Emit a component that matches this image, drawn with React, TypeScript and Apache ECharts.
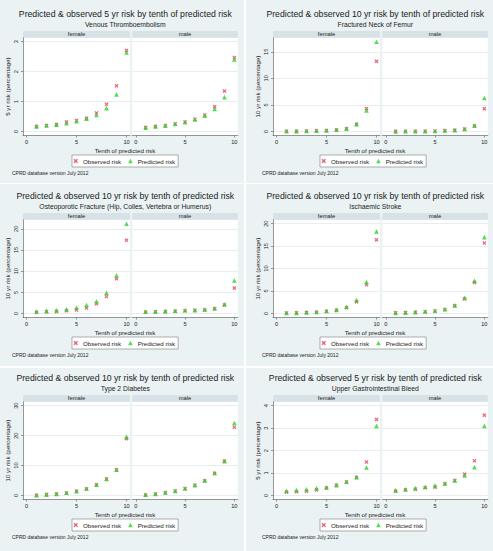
import React, { useEffect, useRef } from "react";
import * as echarts from "echarts";

// Tenths of predicted risk on the x axis, and the ticks shown for them
const tenths = [1, 2, 3, 4, 5, 6, 7, 8, 9, 10];
const xTickValues = [0, 5, 10];
const facetLabels = ["female", "male"];
const seriesNames = ["Observed risk", "Predicted risk"];

// Venous thromboembolism, 5 yr risk (%)
const vteFemaleObserved = [0.17, 0.2, 0.23, 0.32, 0.37, 0.44, 0.62, 0.91, 1.53, 2.71];
const vteFemalePredicted = [0.17, 0.2, 0.23, 0.28, 0.34, 0.43, 0.55, 0.78, 1.24, 2.64];
const vteMaleObserved = [0.13, 0.17, 0.2, 0.26, 0.32, 0.41, 0.55, 0.83, 1.35, 2.47];
const vteMalePredicted = [0.13, 0.17, 0.19, 0.25, 0.31, 0.4, 0.53, 0.75, 1.15, 2.41];

// Fractured neck of femur, 10 yr risk (%)
const nofFemaleObserved = [0.05, 0.07, 0.1, 0.14, 0.2, 0.3, 0.52, 1.35, 4.3, 13.2];
const nofFemalePredicted = [0.05, 0.07, 0.1, 0.14, 0.2, 0.32, 0.55, 1.38, 3.95, 16.9];
const nofMaleObserved = [0.03, 0.04, 0.05, 0.07, 0.1, 0.17, 0.25, 0.45, 1.05, 4.3];
const nofMalePredicted = [0.03, 0.04, 0.05, 0.07, 0.1, 0.18, 0.26, 0.46, 1.12, 6.3];

// Osteoporotic fracture, 10 yr risk (%)
const ofFemaleObserved = [0.3, 0.4, 0.5, 0.65, 0.85, 1.3, 2.3, 4.0, 8.2, 17.3];
const ofFemalePredicted = [0.47, 0.63, 0.78, 1.0, 1.4, 2.0, 2.9, 4.9, 9.0, 21.2];
const ofMaleObserved = [0.35, 0.4, 0.45, 0.55, 0.65, 0.75, 0.85, 1.1, 2.0, 6.0];
const ofMalePredicted = [0.4, 0.45, 0.55, 0.65, 0.75, 0.8, 0.95, 1.25, 2.2, 7.8];

// Ischaemic stroke, 10 yr risk (%)
const strokeFemaleObserved = [0.1, 0.15, 0.25, 0.3, 0.5, 0.75, 1.3, 2.6, 6.4, 16.4];
const strokeFemalePredicted = [0.1, 0.15, 0.25, 0.35, 0.55, 0.8, 1.5, 3.0, 7.0, 18.3];
const strokeMaleObserved = [0.15, 0.2, 0.3, 0.4, 0.55, 0.9, 1.75, 3.25, 6.9, 15.7];
const strokeMalePredicted = [0.15, 0.2, 0.3, 0.45, 0.6, 0.95, 1.8, 3.5, 7.3, 17.0];

// Type 2 diabetes, 10 yr risk (%)
const t2dFemaleObserved = [0.1, 0.3, 0.5, 0.85, 1.4, 2.2, 3.6, 5.5, 8.6, 19.0];
const t2dFemalePredicted = [0.1, 0.3, 0.55, 0.9, 1.45, 2.35, 3.6, 5.5, 8.6, 19.6];
const t2dMaleObserved = [0.2, 0.5, 0.95, 1.5, 2.3, 3.4, 4.9, 7.4, 11.5, 22.8];
const t2dMalePredicted = [0.25, 0.55, 1.0, 1.55, 2.35, 3.45, 5.0, 7.5, 11.5, 24.2];

// Upper gastrointestinal bleed, 5 yr risk (%)
const ugibFemaleObserved = [0.15, 0.17, 0.19, 0.25, 0.33, 0.46, 0.6, 0.8, 1.49, 3.39];
const ugibFemalePredicted = [0.21, 0.24, 0.28, 0.33, 0.37, 0.46, 0.61, 0.82, 1.25, 3.1];
const ugibMaleObserved = [0.19, 0.25, 0.28, 0.34, 0.37, 0.52, 0.67, 0.95, 1.55, 3.58];
const ugibMalePredicted = [0.24, 0.28, 0.33, 0.39, 0.45, 0.54, 0.67, 0.89, 1.26, 3.1];

const panelTitles = [
  "Predicted & observed 5 yr risk by tenth of predicted risk",
  "Predicted & observed 10 yr risk by tenth of predicted risk",
  "Predicted & observed 10 yr risk by tenth of predicted risk",
  "Predicted & observed 10 yr risk by tenth of predicted risk",
  "Predicted & observed 10 yr risk by tenth of predicted risk",
  "Predicted & observed 5 yr risk by tenth of predicted risk",
];
const panelSubtitles = [
  "Venous Thromboembolism",
  "Fractured Neck of Femur",
  "Osteoporotic Fracture (Hip, Colles, Vertebra or Humerus)",
  "Ischaemic Stroke",
  "Type 2 Diabetes",
  "Upper Gastrointestinal Bleed",
];
const yAxisTitles = [
  "5 yr risk (percentage)",
  "10 yr risk (percentage)",
  "10 yr risk (percentage)",
  "10 yr risk (percentage)",
  "10 yr risk (percentage)",
  "5 yr risk (percentage)",
];
const yTickValues = [
  [0, 1, 2, 3],
  [0, 5, 10, 15],
  [0, 5, 10, 15, 20],
  [0, 5, 10, 15, 20],
  [0, 10, 20, 30],
  [0, 1, 2, 3, 4],
];
const xAxisTitle = "Tenth of predicted risk";
const footnote = "CPRD database version July 2012";

// [female, male] per panel
const observedRisk = [
  [vteFemaleObserved, vteMaleObserved],
  [nofFemaleObserved, nofMaleObserved],
  [ofFemaleObserved, ofMaleObserved],
  [strokeFemaleObserved, strokeMaleObserved],
  [t2dFemaleObserved, t2dMaleObserved],
  [ugibFemaleObserved, ugibMaleObserved],
];
const predictedRisk = [
  [vteFemalePredicted, vteMalePredicted],
  [nofFemalePredicted, nofMalePredicted],
  [ofFemalePredicted, ofMalePredicted],
  [strokeFemalePredicted, strokeMalePredicted],
  [t2dFemalePredicted, t2dMalePredicted],
  [ugibFemalePredicted, ugibMalePredicted],
];

// Layout
const FONT = '"Liberation Sans", Arial, Helvetica, sans-serif';
const PANEL_W = 245;
const PANEL_H = 183;
const BG_LEFT = [0, 246];
const BG_WIDTH = [244.3, 247];
const BG_TOP = [0, 184.3, 367.6];
const BG_HEIGHT = [182.7, 181.8, 183.4];
const CONTENT_LEFT = [0, 249.5];
const CONTENT_TOP = [0, 182.3, 364];
const LEGEND_LEFT = [72, 70];
const GRID_TOP = 37.7;
const GRID_H = 97.8;
const FACET_LEFT = [23, 132.3];
const FACET_W = [107, 105.5];
const STRIP_H = 6.7;
const X_MIN = -0.35;
const X_MAX = 10.35;
const Y_PAD_PX = 4;

// Colours
const PANEL_BG = "#EAF2F3";
const STRIP_BG = "#D7E2E7";
const GRIDLINE = "#E2EAEC";
const AXIS = "#6a6a6a";
const TEXT = "#222222";
const OBSERVED = "#E03A55";
const PREDICTED = "#2BD12B";
const CROSS =
  "path://M0,2L2,0L5,3L8,0L10,2L7,5L10,8L8,10L5,7L2,10L0,8L3,5Z";

function yRange(p: number): [number, number] {
  const all = [
    ...observedRisk[p][0],
    ...observedRisk[p][1],
    ...predictedRisk[p][0],
    ...predictedRisk[p][1],
    ...yTickValues[p],
  ];
  const lo = Math.min(...all);
  const hi = Math.max(...all);
  const perPx = (hi - lo) / (GRID_H - 2 * Y_PAD_PX);
  return [lo - Y_PAD_PX * perPx, hi + Y_PAD_PX * perPx];
}

function label(text: string, x: number, y: number, fontSize: number, align = "center") {
  return {
    type: "text",
    x,
    y,
    silent: true,
    style: {
      text,
      fontSize,
      fontFamily: FONT,
      fill: TEXT,
      align,
      textAlign: align,
      verticalAlign: "middle",
      textVerticalAlign: "middle",
    },
  };
}

function buildOption(p: number, col: number) {
  const [yMin, yMax] = yRange(p);
  const ticks = yTickValues[p];
  const axisLineStyle = { color: AXIS, width: 0.7 };

  const graphic: any[] = [
    label(panelTitles[p], 125.3, 14, 8.7),
    label(panelSubtitles[p], 125.3, 24, 6.8),
    label(xAxisTitle, 125, 150, 6.2),
    label(footnote, 12, 173, 5, "left"),
  ];
  facetLabels.forEach((f, i) => {
    graphic.push({
      type: "rect",
      silent: true,
      shape: { x: FACET_LEFT[i], y: GRID_TOP - STRIP_H, width: FACET_W[i], height: STRIP_H, r: [1, 1, 0, 0] },
      style: { fill: STRIP_BG },
    });
    graphic.push(label(f, FACET_LEFT[i] + FACET_W[i] / 2, GRID_TOP - STRIP_H / 2, 5.8));
  });

  const series: any[] = [];
  facetLabels.forEach((_, i) => {
    series.push({
      type: "scatter",
      name: seriesNames[0],
      xAxisIndex: i,
      yAxisIndex: i,
      symbol: CROSS,
      symbolSize: 4,
      itemStyle: { color: OBSERVED },
      data: tenths.map((t, k) => [t, observedRisk[p][i][k]]),
    });
    series.push({
      type: "scatter",
      name: seriesNames[1],
      xAxisIndex: i,
      yAxisIndex: i,
      symbol: "triangle",
      symbolSize: 4.6,
      itemStyle: { color: PREDICTED },
      data: tenths.map((t, k) => [t, predictedRisk[p][i][k]]),
    });
  });

  return {
    animation: false,
    backgroundColor: "transparent",
    textStyle: { fontFamily: FONT },
    graphic,
    grid: facetLabels.map((_, i) => ({
      left: FACET_LEFT[i],
      top: GRID_TOP,
      width: FACET_W[i],
      height: GRID_H,
      show: true,
      backgroundColor: "#ffffff",
      borderWidth: 0,
    })),
    xAxis: facetLabels.map((_, i) => ({
      type: "value",
      gridIndex: i,
      min: X_MIN,
      max: X_MAX,
      axisLine: { show: true, onZero: false, lineStyle: axisLineStyle },
      axisTick: { show: true, length: 2, customValues: xTickValues, lineStyle: axisLineStyle },
      axisLabel: { customValues: xTickValues, fontSize: 5.6, color: TEXT, margin: 3, fontFamily: FONT },
      splitLine: { show: false },
    })),
    yAxis: facetLabels.map((_, i) => ({
      type: "value",
      gridIndex: i,
      min: yMin,
      max: yMax,
      name: i === 0 ? yAxisTitles[p] : "",
      nameLocation: "middle",
      nameGap: 13,
      nameTextStyle: { fontSize: 6.2, color: TEXT, fontFamily: FONT },
      axisLine: { show: i === 0, onZero: false, lineStyle: axisLineStyle },
      axisTick: { show: i === 0, length: 2, customValues: ticks, lineStyle: axisLineStyle },
      axisLabel: {
        show: i === 0,
        customValues: ticks,
        rotate: 90,
        fontSize: 5.6,
        color: TEXT,
        margin: 4,
        fontFamily: FONT,
      },
      splitLine: { show: true, lineStyle: { color: GRIDLINE, width: 0.8 } },
    })),
    legend: {
      left: LEGEND_LEFT[col],
      top: 155,
      orient: "horizontal",
      data: [
        { name: seriesNames[0], icon: CROSS },
        { name: seriesNames[1], icon: "triangle" },
      ],
      itemWidth: 4.5,
      itemHeight: 4.5,
      itemGap: 7,
      textStyle: { fontSize: 6.2, color: TEXT, fontFamily: FONT },
      backgroundColor: "#ffffff",
      borderColor: "#8c8c8c",
      borderWidth: 0.7,
      borderRadius: 0,
      padding: [3, 3, 3, 1.5],
      selectedMode: false,
    },
    series,
  };
}

function Panel({ index }: { index: number }) {
  const ref = useRef<HTMLDivElement>(null);
  const col = index % 2;
  const row = Math.floor(index / 2);

  useEffect(() => {
    if (!ref.current) return;
    const chart = echarts.init(ref.current, undefined, { renderer: "svg" });
    chart.setOption(buildOption(index, col) as any);
    return () => chart.dispose();
  }, [index, col]);

  return (
    <>
      <div
        style={{
          position: "absolute",
          left: BG_LEFT[col],
          top: BG_TOP[row],
          width: BG_WIDTH[col],
          height: BG_HEIGHT[row],
          background: PANEL_BG,
        }}
      />
      <div
        ref={ref}
        style={{
          position: "absolute",
          left: CONTENT_LEFT[col],
          top: CONTENT_TOP[row],
          width: PANEL_W,
          height: PANEL_H,
        }}
      />
    </>
  );
}

export default function App() {
  return (
    <div
      style={{
        position: "fixed",
        left: 0,
        top: 0,
        width: 493,
        height: 551,
        background: "#ffffff",
        overflow: "hidden",
      }}
    >
      {panelTitles.map((_, i) => (
        <Panel key={i} index={i} />
      ))}
    </div>
  );
}
